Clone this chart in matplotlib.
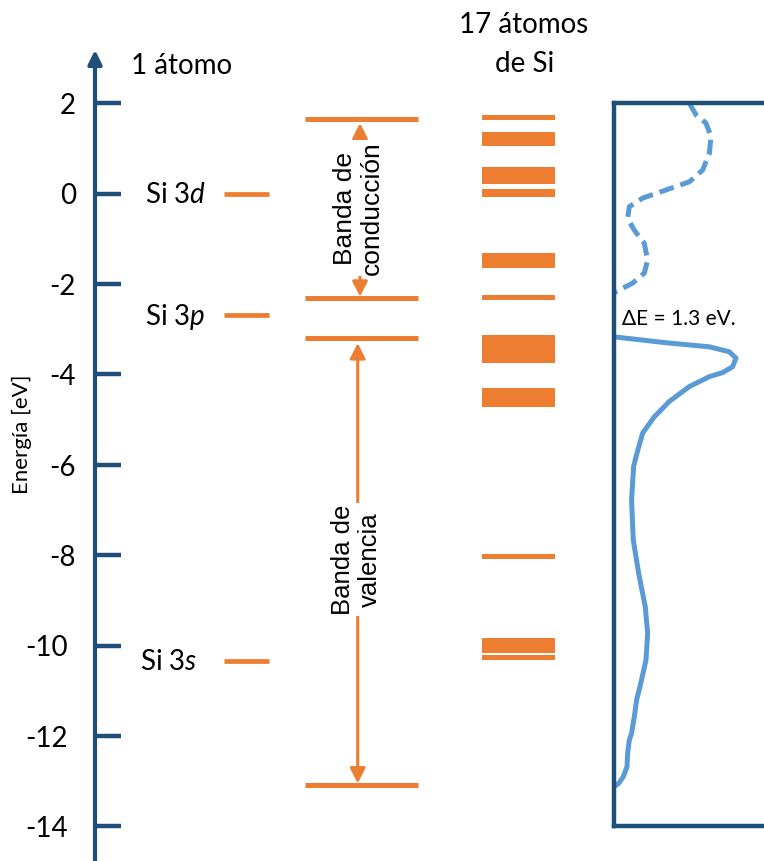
import matplotlib
matplotlib.use('Agg')
import matplotlib.pyplot as plt

plt.rcParams['font.family'] = ['Lato', 'DejaVu Sans']
plt.rcParams['mathtext.fontset'] = 'custom'
plt.rcParams['mathtext.rm'] = 'Lato'
plt.rcParams['mathtext.it'] = 'Lato:italic'

ORANGE = '#ed7d31'
NAVY = '#1f4e79'
BLUE = '#5b9bd5'

# energy axis [eV]
ticks = [2, 0, -2, -4, -6, -8, -10, -12, -14]
tick_labels = ['2', '0', '-2', '-4', '-6', '-8', '-10', '-12', '-14']

# levels of a single Si atom
atom_names = ['Si 3$d$', 'Si 3$p$', 'Si 3$s$']
atom_levels = [0.0, -2.69, -10.34]

# band edges (conduction top/bottom, valence top/bottom)
edge_levels = [1.64, -2.32, -3.20, -13.09]

# energy bands for 17 Si atoms
band_top = [1.74, 1.36, 0.59, 0.10, -1.31, -2.24, -3.13, -4.30, -7.97, -9.83, -10.21]
band_bottom = [1.63, 1.05, 0.21, -0.08, -1.65, -2.35, -3.75, -4.72, -8.08, -10.16, -10.32]

# density of states, conduction band (dashed)
dos_cond_E = [2.00, 1.74, 1.56, 1.26, 0.89, 0.52, 0.26, 0.08, -0.10, -0.29,
              -0.55, -0.81, -1.10, -1.47, -1.76, -1.98, -2.19]
dos_cond = [0.625, 0.681, 0.764, 0.806, 0.792, 0.736, 0.625, 0.431, 0.236, 0.125,
            0.111, 0.167, 0.250, 0.278, 0.250, 0.153, 0.0]

# density of states, valence band (solid)
dos_val_E = [-3.17, -3.30, -3.39, -3.50, -3.64, -3.83, -3.96, -4.05, -4.27, -4.60,
             -4.94, -5.30, -5.82, -6.04, -6.78, -7.66, -8.40, -9.14, -9.73, -10.32,
             -10.91, -11.20, -11.57, -11.94, -12.09, -12.38, -12.68, -12.90, -13.05, -13.12]
dos_val = [0.0, 0.431, 0.792, 0.958, 1.014, 0.986, 0.903, 0.792, 0.625, 0.458,
           0.333, 0.236, 0.181, 0.161, 0.144, 0.158, 0.203, 0.258, 0.278, 0.264,
           0.214, 0.186, 0.167, 0.144, 0.125, 0.111, 0.106, 0.075, 0.036, 0.0]

fig = plt.figure(figsize=(7.64, 8.61), dpi=100)
ax = fig.add_axes([0, 0, 1, 1])
ax.set_xlim(0, 764)
ax.set_ylim(-14.766, 4.283)
ax.axis('off')

# energy axis with arrow and ticks
ax.annotate('', xy=(95, 3.18), xytext=(95, -14.8),
            arrowprops=dict(arrowstyle='-|>,head_length=0.55,head_width=0.27',
                            mutation_scale=15, lw=3, color=NAVY,
                            shrinkA=0, shrinkB=0))
ax.hlines(ticks, 95, 121, color=NAVY, lw=3.2)
for t, lab in zip(ticks, tick_labels):
    xr = 76 if abs(t) < 10 else 68
    ax.text(xr, t - 0.24, lab, ha='right', va='baseline', fontsize=20)
ax.text(22, -5.33, 'Energía [eV]', rotation=90, ha='center', va='center', fontsize=16)

# single atom
ax.text(131, 2.646, '1 átomo', va='baseline', fontsize=20)
ax.hlines(atom_levels, 224, 269, color=ORANGE, lw=3.4)
for name, lev, xl in zip(atom_names, atom_levels, [145, 145, 140]):
    ax.text(xl, lev - 0.21, name, va='baseline', fontsize=20)

# band edges and band arrows
ax.hlines(edge_levels, 305, 418, color=ORANGE, lw=3.6)
arrow = dict(arrowstyle='<|-|>,head_length=0.75,head_width=0.38', mutation_scale=12,
             lw=2.2, color=ORANGE, shrinkA=0, shrinkB=0)
ax.annotate('', xy=(360, 1.56), xytext=(360, -2.28), arrowprops=arrow)
ax.annotate('', xy=(357.7, -3.31), xytext=(357.7, -13.05), arrowprops=arrow)
box = dict(fc='white', ec='none', pad=1)
ax.text(358, -0.32, 'Banda de\nconducción', rotation=90, ha='center', va='center',
        family=['Liberation Sans'], fontsize=19, linespacing=1.15, bbox=box, zorder=4)
ax.text(356, -8.1, 'Banda de\nvalencia', rotation=90, ha='center', va='center',
        family=['Liberation Sans'], fontsize=18.5, linespacing=1.15, bbox=box, zorder=4)

# 17 atoms
ax.text(524, 3.553, '17 átomos', ha='center', va='baseline', fontsize=20)
ax.text(525, 2.697, 'de Si', ha='center', va='baseline', fontsize=20)
heights = [t - b for t, b in zip(band_top, band_bottom)]
ax.bar([518.5] * len(heights), heights, bottom=band_bottom, width=73, color=ORANGE)

# density of states panel
ax.text(622, -2.907, 'ΔE = 1.3 eV.', va='baseline', fontsize=15)
ax_dos = ax.inset_axes([614.3, -14, 200, 16], transform=ax.transData)
ax_dos.set_xlim(0, 200 / 120)
ax_dos.set_ylim(-14, 2)
ax_dos.set_xticks([])
ax_dos.set_yticks([])
ax_dos.patch.set_alpha(0)
ax_dos.spines['right'].set_visible(False)
for s in ['left', 'top', 'bottom']:
    ax_dos.spines[s].set_color(NAVY)
    ax_dos.spines[s].set_linewidth(3.2)
ax_dos.plot(dos_cond, dos_cond_E, color=BLUE, lw=3.6, ls=(0, (3, 1.4)),
            dash_capstyle='butt', clip_on=False)
ax_dos.plot(dos_val, dos_val_E, color=BLUE, lw=3.6, solid_joinstyle='round',
            solid_capstyle='butt', clip_on=False)

fig.savefig('out.png', dpi=100)
